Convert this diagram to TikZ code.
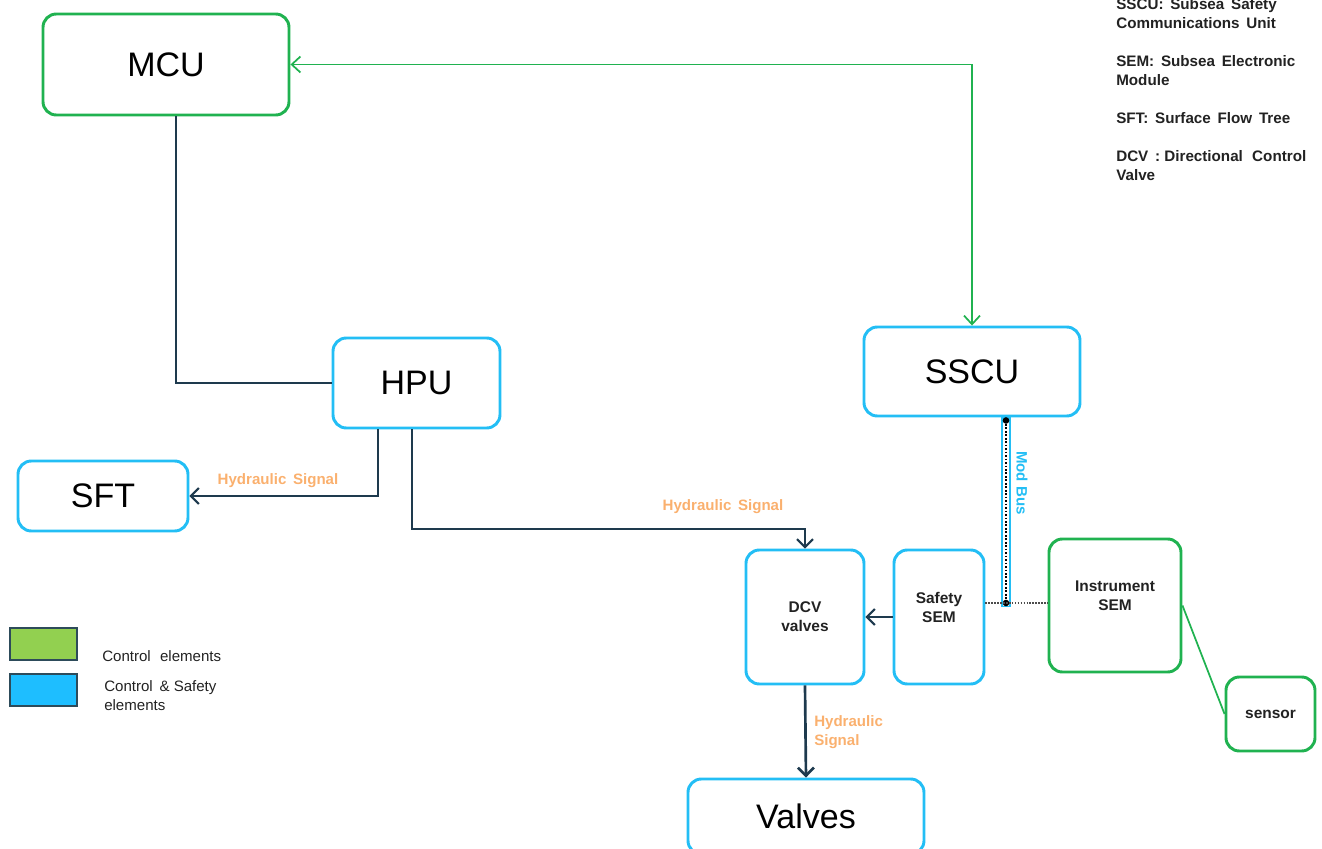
\documentclass[tikz,border=0pt]{standalone}
\usepackage{fontspec}
\setmainfont{Liberation Sans}
\usetikzlibrary{arrows.meta,calc}
\definecolor{ctrlgreen}{RGB}{32,178,80}
\definecolor{safeblue}{RGB}{35,190,245}
\definecolor{wire}{RGB}{30,58,78}
\definecolor{sigorange}{RGB}{250,176,110}
\definecolor{swgreen}{RGB}{146,208,80}
\definecolor{swblue}{RGB}{30,190,255}
\definecolor{swedge}{RGB}{45,75,90}
\definecolor{note}{RGB}{34,34,34}
\begin{document}
\begin{tikzpicture}[x=0.75pt,y=-0.75pt,
  unitbox/.style={draw,rounded corners=10pt,line width=2.2pt,fill=white,inner sep=0pt},
  greenbox/.style={unitbox,draw=ctrlgreen},
  bluebox/.style={unitbox,draw=safeblue},
  bigtxt/.style={font=\fontsize{25.5}{28}\selectfont},
  smalltxt/.style={font=\fontsize{11.6}{14.5}\selectfont\bfseries,align=center,text=note},
  conn/.style={draw=wire,line width=1.5pt},
  hyd/.style={conn,-{Straight Barb[length=6pt,width=12pt,line width=1.5pt]}},
  sig/.style={text=sigorange,font=\fontsize{11.3}{14.25}\selectfont\bfseries,align=left},
  notetxt/.style={anchor=north west,font=\fontsize{11.4}{14.25}\selectfont\bfseries,text=note,align=left,inner sep=0pt}
]
\useasboundingbox (0,0) rectangle (1322,849);

% units
\node[greenbox,minimum width=184.5pt,minimum height=75.75pt,bigtxt] (MCU) at (166,64.5) {MCU};
\node[bluebox,minimum width=125.25pt,minimum height=67.5pt,bigtxt] (HPU) at (416.5,383) {HPU};
\node[bluebox,minimum width=127.5pt,minimum height=52.5pt,bigtxt] (SFT) at (103,496) {SFT};
\node[bluebox,minimum width=162pt,minimum height=66.75pt,bigtxt] (SSCU) at (972,371.5) {SSCU};
\node[bluebox,minimum width=88.5pt,minimum height=100.5pt,smalltxt] (DCV) at (805,617) {DCV\\valves};
\node[bluebox,minimum width=67.5pt,minimum height=100.5pt] (SAFE) at (939,617) {};
\node[smalltxt] (SAFEt) at (939,607.5) {Safety\\SEM};
\node[greenbox,minimum width=99pt,minimum height=99.75pt] (INST) at (1115,605.5) {};
\node[smalltxt] (INSTt) at (1115,596) {Instrument\\SEM};
\node[greenbox,minimum width=66.75pt,minimum height=55.5pt,smalltxt] (SENS) at (1270.5,714) {sensor};
\node[bluebox,minimum width=177pt,minimum height=56.25pt,bigtxt] (VALV) at (806,816.5) {Valves};

% hydraulic and control links
\draw[conn] ($(MCU.south)+(10,0)$) |- (HPU.west);
\draw[hyd] ($(HPU.south)+(-38.5,0)$) |- (SFT.east);
\draw[hyd] ($(HPU.south)+(-4.5,0)$) -- ++(0,100) -| (DCV.north);
\draw[hyd] (SAFE.west) -- (DCV.east);
\draw[conn,line width=2pt,-{Straight Barb[length=6pt,width=12pt,line width=2pt]}] (DCV.south) -- (VALV.north);
\draw[ctrlgreen,line width=1.3pt,{Straight Barb[length=6.5pt,width=12pt]}-{Straight Barb[length=6.5pt,width=12pt]}] (MCU.east) -| (SSCU.north);
\draw[ctrlgreen,line width=1.3pt] (INST.east) -- (SENS.west);

% Mod Bus
\coordinate (bustop) at ($(SSCU.south)+(34,3)$);
\coordinate (busend) at (1006,603);
\draw[safeblue,line width=7pt] ($(SSCU.south)+(34,0)$) -- ($(busend)+(0,4)$);
\draw[white,line width=4pt] ($(SSCU.south)+(34,1.5)$) -- ($(busend)+(0,2.5)$);
\draw[black,line width=1.3pt,dash pattern=on 1.3pt off 1.3pt] (bustop) -- (busend);
\fill[black] (bustop) circle (3.3);
\fill[black] (busend) circle (3.3);
\draw[black!70,line width=1pt,dash pattern=on 1.2pt off 1pt] (busend -| SAFE.east) -- (busend -| INST.west);
\node[rotate=-90,text=safeblue,font=\fontsize{11.3}{14}\selectfont\bfseries] (busl) at (1022,483) {Mod Bus};

% signal labels
\node[sig] (h1) at (278,481) {Hydraulic\, Signal};
\node[sig] (h2) at (723,507) {Hydraulic\, Signal};
\node[sig,anchor=west,inner sep=0pt] (h3) at (814,732) {Hydraulic\\Signal};

% abbreviations
\node[notetxt] (abbr) at (1116,-2) {SSCU:\, Subsea\, Safety\\Communications\, Unit\\[14.25pt]SEM:\, Subsea\, Electronic\\Module\\[14.25pt]SFT:\, Surface\, Flow\, Tree\\[14.25pt]DCV\, : Directional\,\, Control\\Valve};

% legend
\node[draw=swedge,fill=swgreen,line width=1.5pt,minimum width=50pt,minimum height=24pt,inner sep=0pt] (lg1) at (43.5,644) {};
\node[draw=swedge,fill=swblue,line width=1.5pt,minimum width=50pt,minimum height=24pt,inner sep=0pt] (lg2) at (43.5,690) {};
\node[anchor=west,font=\fontsize{11.3}{14}\selectfont,text=note,inner sep=0pt] (lt1) at (102,656) {Control\,\, elements};
\node[anchor=west,font=\fontsize{11.3}{14.25}\selectfont,text=note,inner sep=0pt,align=left] (lt2) at (104,695.5) {Control\, \& Safety\\elements};
\end{tikzpicture}
\end{document}
